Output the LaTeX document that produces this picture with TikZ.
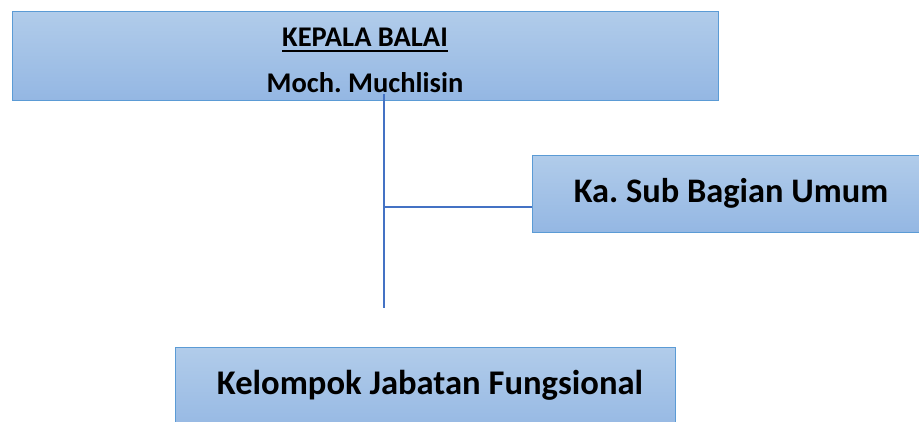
\documentclass[tikz,border=0pt]{standalone}
\usepackage{fontspec}
\setmainfont{Carlito}
\frenchspacing
\newcommand{\ulword}[1]{\setbox0\hbox{#1}\rlap{\rule[-5pt]{\wd0}{1.8pt}}\box0}
\definecolor{boxtop}{RGB}{177,204,234}
\definecolor{boxbottom}{RGB}{148,183,227}
\definecolor{boxline}{RGB}{91,155,213}
\definecolor{wire}{RGB}{68,114,196}

\begin{document}
\begin{tikzpicture}[x=1pt, y=-1pt]
	\tikzstyle{unit} = [rectangle, draw=boxline, line width=1pt, top color=boxtop, bottom color=boxbottom, inner sep=0pt, font=\bfseries]
	\tikzstyle{link} = [draw=wire, line width=1.2pt]
	\useasboundingbox (0,0) rectangle (919,421);
	\node [unit, minimum width=706pt, minimum height=89pt, align=center, font=\bfseries\fontsize{28.5}{46}\selectfont] (kepala) at (365, 55.5) {\rule{0pt}{29pt}\ulword{KEPALA BALAI}\\Moch. Muchlisin};
	\node [unit, minimum width=398pt, minimum height=77pt, font=\bfseries\fontsize{34.4}{40}\selectfont] (subbag) at (731, 193.5) {Ka. Sub Bagian Umum};
	\node [unit, anchor=north west, minimum width=500pt, text height=47pt, text depth=41pt, font=\bfseries\fontsize{34.6}{40}\selectfont] (fungsional) at (175, 347) {\hspace*{9pt}Kelompok Jabatan Fungsional};
	\coordinate (trunktop) at (384, 94);
	\coordinate (junction) at (384, 207);
	\coordinate (trunkend) at (384, 308);
	\draw [link] (trunktop)--(trunkend);
	\draw [link] (junction)--(junction -| subbag.west);
\end{tikzpicture}
\end{document}
